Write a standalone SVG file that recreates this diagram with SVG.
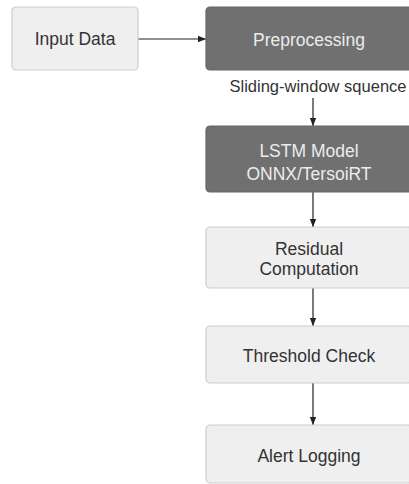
<svg xmlns="http://www.w3.org/2000/svg" width="409" height="484" viewBox="0 0 409 484">
<defs>
<style>
.light{fill:#efefef;stroke:#cdcdcd;stroke-width:1.2}
.dark{fill:#707070;stroke:#666;stroke-width:1.2}
.t{font-family:"Liberation Sans",Arial,sans-serif;font-size:17.5px;text-anchor:middle}
.tl{fill:#333}
.td{fill:#ececec}
.lbl{font-family:"Liberation Sans",Arial,sans-serif;font-size:16.5px;fill:#333;text-anchor:middle}
.c{stroke:#222;stroke-width:1.2;fill:none;marker-end:url(#ah)}
</style>
<marker id="ah" viewBox="0 0 10 10" refX="10" refY="5" markerWidth="8" markerHeight="8" markerUnits="userSpaceOnUse" orient="auto">
<path d="M0,1 L10,5 L0,9 Z" fill="#222"/>
</marker>
</defs>
<rect width="409" height="484" fill="#ffffff"/>
<g id="connectors">
<line class="c" x1="138" y1="39" x2="206" y2="39"/>
<line class="c" x1="313" y1="98" x2="313" y2="126"/>
<line class="c" x1="313" y1="192" x2="313" y2="227"/>
<line class="c" x1="313" y1="288" x2="313" y2="326"/>
<line class="c" x1="313" y1="383" x2="313" y2="425"/>
</g>
<g id="input-data">
<rect class="light" x="12" y="7" width="126" height="63" rx="4"/>
<text class="t tl" x="75" y="45">Input Data</text>
</g>
<g id="preprocessing">
<rect class="dark" x="206" y="7" width="206" height="63" rx="4"/>
<text class="t td" x="309" y="46">Preprocessing</text>
</g>
<text class="lbl" x="318" y="92">Sliding-window squence</text>
<g id="lstm-model">
<rect class="dark" x="206" y="126" width="206" height="66" rx="4"/>
<text class="t td" x="309" y="157">LSTM Model</text>
<text class="t td" x="309" y="180">ONNX/TersoiRT</text>
</g>
<g id="residual-computation">
<rect class="light" x="206" y="227" width="206" height="61" rx="4"/>
<text class="t tl" x="309" y="255">Residual</text>
<text class="t tl" x="309" y="275">Computation</text>
</g>
<g id="threshold-check">
<rect class="light" x="206" y="326" width="206" height="57" rx="4"/>
<text class="t tl" x="309" y="362">Threshold Check</text>
</g>
<g id="alert-logging">
<rect class="light" x="206" y="425" width="206" height="58" rx="4"/>
<text class="t tl" x="309" y="462">Alert Logging</text>
</g>
</svg>
